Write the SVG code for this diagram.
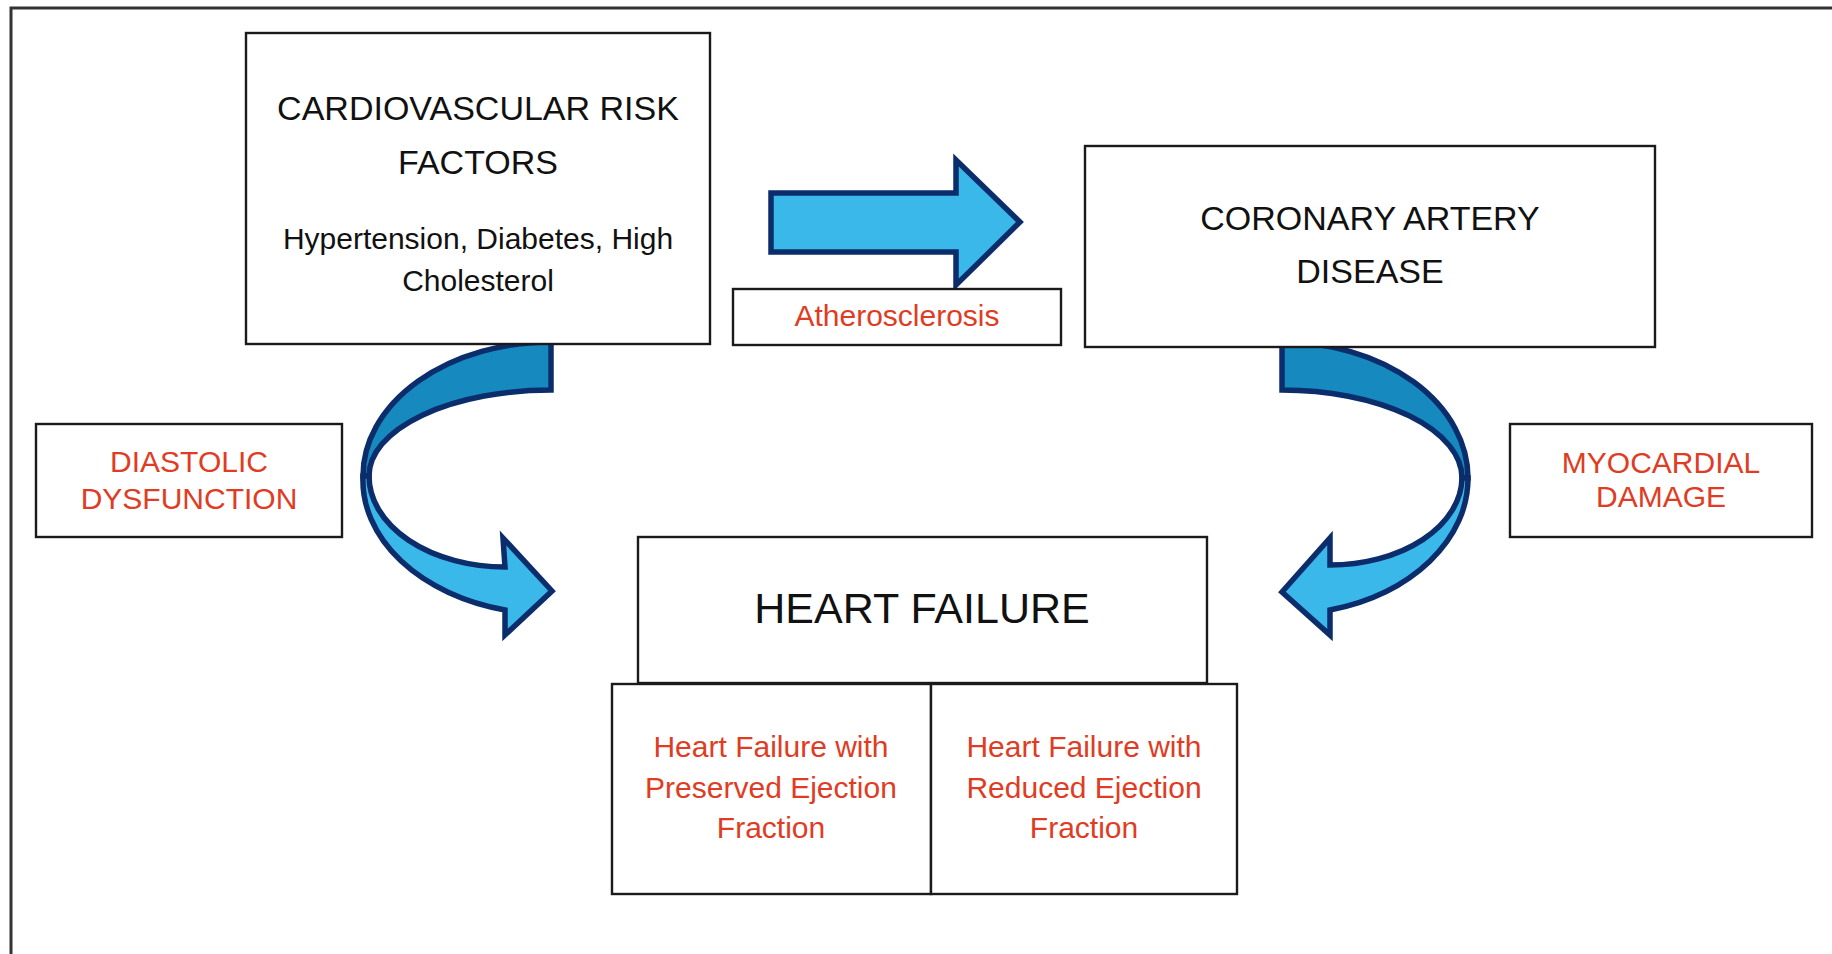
<svg xmlns="http://www.w3.org/2000/svg" width="1832" height="954" viewBox="0 0 1832 954">
<style>
.box{fill:#fff;stroke:#1a1a1a;stroke-width:2.4}
.t{font-family:"Liberation Sans",Arial,sans-serif;text-anchor:middle;fill:#111}
.h{font-size:34px}
.b{font-size:30px}
.r{font-size:30px;fill:#e03c24}
.arr{stroke:#0b2d6b;stroke-width:5.5;stroke-linejoin:miter}
.dark{fill:#1689bf}
.light{fill:#3bb8ea}
</style>
<rect x="0" y="0" width="1832" height="954" fill="#fff"/>
<polyline points="11,954 11,8 1832,8" fill="none" stroke="#333" stroke-width="3"/>

<g id="connectors">
  <path class="arr light" d="M771,193 L956,193 L956,160 L1020,222 L956,285 L956,252 L771,252 Z"/>
  <g id="curved-left">
    <path class="arr dark" d="M551,342 A188,134 0 0 0 363,476 L369,476 A182,86 0 0 1 551,390 Z"/>
    <path class="arr light" d="M363,476 A188,134 0 0 0 505,610 L505,635 L552,591 L503,538 L505,567 A136,91 0 0 1 369,476 Z"/>
  </g>
  <g id="curved-right">
    <path class="arr dark" d="M1282,342 A186,136 0 0 1 1468,478 L1462,478 A180,88 0 0 0 1282,390 Z"/>
    <path class="arr light" d="M1468,478 A186,136 0 0 1 1330,610 L1330,635 L1282,592 L1330,538 L1330,565 A132,88 0 0 0 1462,478 Z"/>
  </g>
</g>

<g id="risk-factors">
  <rect class="box" x="246" y="33" width="464" height="311"/>
  <text class="t h" x="478" y="120">CARDIOVASCULAR RISK</text>
  <text class="t h" x="478" y="174">FACTORS</text>
  <text class="t b" x="478" y="249">Hypertension, Diabetes, High</text>
  <text class="t b" x="478" y="291">Cholesterol</text>
</g>

<g id="atherosclerosis">
  <rect class="box" x="733" y="289" width="328" height="56"/>
  <text class="t r" x="897" y="326">Atherosclerosis</text>
</g>

<g id="cad">
  <rect class="box" x="1085" y="146" width="570" height="201"/>
  <text class="t h" x="1370" y="230">CORONARY ARTERY</text>
  <text class="t h" x="1370" y="283">DISEASE</text>
</g>

<g id="diastolic">
  <rect class="box" x="36" y="424" width="306" height="113"/>
  <text class="t r" x="189" y="472">DIASTOLIC</text>
  <text class="t r" x="189" y="509">DYSFUNCTION</text>
</g>

<g id="myocardial">
  <rect class="box" x="1510" y="424" width="302" height="113"/>
  <text class="t r" x="1661" y="473">MYOCARDIAL</text>
  <text class="t r" x="1661" y="507">DAMAGE</text>
</g>

<g id="heart-failure">
  <rect class="box" x="638" y="537" width="569" height="146"/>
  <text class="t" x="922" y="623" font-size="43">HEART FAILURE</text>
</g>

<g id="hfpef">
  <rect class="box" x="612" y="684" width="319" height="210"/>
  <text class="t r" x="771" y="757">Heart Failure with</text>
  <text class="t r" x="771" y="798">Preserved Ejection</text>
  <text class="t r" x="771" y="838">Fraction</text>
</g>

<g id="hfref">
  <rect class="box" x="931" y="684" width="306" height="210"/>
  <text class="t r" x="1084" y="757">Heart Failure with</text>
  <text class="t r" x="1084" y="798">Reduced Ejection</text>
  <text class="t r" x="1084" y="838">Fraction</text>
</g>
</svg>
